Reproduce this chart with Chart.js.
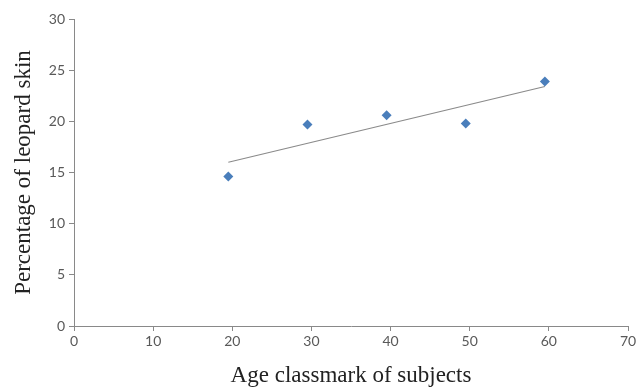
<!DOCTYPE html>
<html>
<head>
<meta charset="utf-8">
<script src="https://cdn.jsdelivr.net/npm/chart.js@4/dist/chart.umd.min.js"></script>
<style>
html,body{margin:0;padding:0;background:#fff;}
#wrap{width:644px;height:387px;position:relative;}
</style>
</head>
<body>
<div id="wrap"><canvas id="c" width="644" height="387"></canvas></div>
<script>
// Data
const ageClassmarks = [19.5, 29.5, 39.5, 49.5, 59.5];
const leopardSkinPct = [14.6, 19.7, 20.6, 19.8, 23.9];
const trendX = [19.5, 59.5];
const trendY = [16.0, 23.4];
const xTickValues = [0, 10, 20, 30, 40, 50, 60, 70];
const yTickValues = [0, 5, 10, 15, 20, 25, 30];

const axisGrey = '#898989';
const tickFont = {family: 'Lato', size: 14};
const titleFont = {family: '"Liberation Serif", "Times New Roman", serif', size: 23, lineHeight: 1.0};

new Chart(document.getElementById('c'), {
  type: 'scatter',
  data: {
    datasets: [
      {
        label: 'Percentage',
        data: ageClassmarks.map((x, i) => ({x: x, y: leopardSkinPct[i]})),
        pointStyle: 'rectRot',
        pointRadius: 5,
        backgroundColor: '#4a7ebb',
        borderColor: '#4a7ebb',
        borderWidth: 0,
        showLine: false,
        order: 1
      },
      {
        label: 'Trend',
        data: trendX.map((x, i) => ({x: x, y: trendY[i]})),
        showLine: true,
        pointRadius: 0,
        borderColor: '#8a8a8a',
        borderWidth: 1.2,
        fill: false,
        order: 2
      }
    ]
  },
  options: {
    responsive: false,
    animation: false,
    events: [],
    layout: {padding: {top: 19, right: 16, left: 0, bottom: 0}},
    plugins: {legend: {display: false}, tooltip: {enabled: false}},
    scales: {
      x: {
        type: 'linear',
        min: 0, max: 70,
        afterBuildTicks: s => { s.ticks = xTickValues.map(v => ({value: v})); },
        afterFit: s => { s.height = 61; },
        grid: {drawOnChartArea: false, drawTicks: true, tickLength: 5, color: axisGrey},
        border: {display: true, color: axisGrey, width: 1},
        ticks: {color: '#595959', font: tickFont, padding: 2, maxRotation: 0},
        title: {display: true, text: 'Age classmark of subjects', color: '#222', font: titleFont, padding: {top: 0, bottom: 0}}
      },
      y: {
        type: 'linear',
        min: 0, max: 30,
        afterBuildTicks: s => { s.ticks = yTickValues.map(v => ({value: v})); },
        afterFit: s => { s.width = 74; },
        grid: {drawOnChartArea: false, drawTicks: true, tickLength: 5, color: axisGrey},
        border: {display: true, color: axisGrey, width: 1},
        ticks: {color: '#595959', font: tickFont, padding: 4},
        title: {display: true, text: 'Percentage of leopard skin', color: '#222', font: titleFont, padding: {top: 12, bottom: 0}}
      }
    }
  }
});
</script>
</body>
</html>
